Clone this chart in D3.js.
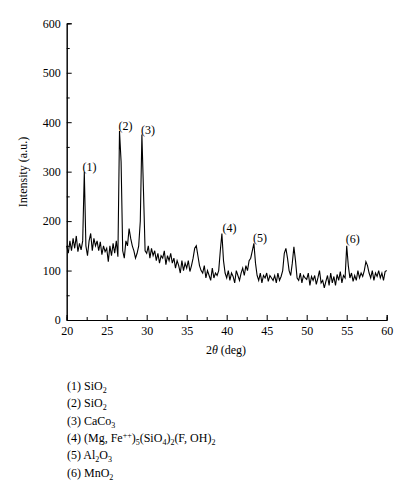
<!DOCTYPE html>
<html>
<head>
<meta charset="utf-8">
<script src="https://cdn.jsdelivr.net/npm/d3@7"></script>
<style>
body { margin: 0; background: #fff; }
text { font-family: "Liberation Serif", "DejaVu Serif", serif; }
</style>
</head>
<body>
<div id="chart"></div>
<script>
// XRD pattern, intensity every 0.2 deg from 20 to 60
var startAngle = 20, stepAngle = 0.2;
var intensity = [
  150,135,160,140,165, 145,170,138,155,142, 160,300,150,130,160, 175,140,165,150,160,
  140,158,132,150,138, 145,118,150,130,155, 135,160,128,382,320, 140,125,160,150,185,
  165,150,140,125,135, 150,200,375,260,140, 135,150,125,145,130, 140,120,135,115,130,
  125,140,112,130,120, 135,115,125,105,120, 110,95,120,100,115, 105,120,98,110,125,
  145,150,130,110,100, 95,110,85,100,90, 80,105,85,95,90, 100,140,175,120,95,
  85,100,80,95,88, 75,100,90,80,95, 105,90,110,100,120, 125,140,155,115,90,
  80,95,75,90,85, 95,78,90,85,80, 90,75,95,80,88, 100,135,145,125,100,
  90,115,148,120,85, 80,95,75,90,85, 82,95,70,88,80, 90,72,85,100,75,
  80,65,78,90,70, 95,75,88,70,92, 80,98,75,90,85, 150,110,85,95,78,
  90,80,100,85,95, 88,100,118,110,95, 85,100,80,95,88, 100,85,95,80,98, 100
];
var peakLabels = ["(1)", "(2)", "(3)", "(4)", "(5)", "(6)"];
var peakAngles = [22.1, 26.6, 29.4, 39.6, 43.4, 55.0];
var peakHeights = [300, 382, 375, 175, 155, 153];
var xTicks = [20, 25, 30, 35, 40, 45, 50, 55, 60];
var yTicks = [0, 100, 200, 300, 400, 500, 600];
var legendItems = [
  ["(1) SiO", ["2", "sub"]],
  ["(2) SiO", ["2", "sub"]],
  ["(3) CaCo", ["3", "sub"]],
  ["(4) (Mg, Fe", ["++", "super"], ")", ["5", "sub"], "(SiO", ["4", "sub"], ")", ["2", "sub"], "(F, OH)", ["2", "sub"]],
  ["(5) Al", ["2", "sub"], "O", ["3", "sub"]],
  ["(6) MnO", ["2", "sub"]]
];

var data = intensity.map(function(v, i) { return { a: startAngle + i * stepAngle, v: v }; });

var svg = d3.select("#chart").append("svg").attr("width", 410).attr("height", 500);
var x = d3.scaleLinear().domain([20, 60]).range([66.7, 386.7]);
var y = d3.scaleLinear().domain([0, 600]).range([320, 23.3]);

/*axes with inward ticks*/
var gx = svg.append("g").attr("transform", "translate(0,320)");
gx.call(d3.axisBottom(x).tickValues(xTicks).tickSize(-5).tickPadding(6));
gx.append("g").call(d3.axisBottom(x).tickValues(d3.range(22.5, 60, 5)).tickSize(-3).tickFormat(""));
var gy = svg.append("g").attr("transform", "translate(66.7,0)");
gy.call(d3.axisLeft(y).tickValues(yTicks).tickSize(-5).tickPadding(6));
gy.append("g").call(d3.axisLeft(y).tickValues(d3.range(50, 600, 100)).tickSize(-3).tickFormat(""));
svg.selectAll(".domain").attr("stroke", "#000");
svg.selectAll(".tick line").attr("stroke", "#000");
svg.selectAll(".tick text").attr("font-family", "Liberation Serif").attr("font-size", 12).attr("fill", "#000");

svg.append("text").attr("transform", "translate(27,172) rotate(-90)")
  .attr("text-anchor", "middle").attr("font-size", 12).text("Intensity (a.u.)");
var xl = svg.append("text").attr("x", 226).attr("y", 354).attr("text-anchor", "middle").attr("font-size", 12);
xl.append("tspan").text("2");
xl.append("tspan").attr("font-style", "italic").text("θ");
xl.append("tspan").text(" (deg)");

svg.append("path").datum(data)
  .attr("fill", "none").attr("stroke", "#000").attr("stroke-width", 1.1)
  .attr("d", d3.line().x(function(d) { return x(d.a); }).y(function(d) { return y(d.v); }));

svg.selectAll(".plab").data(peakLabels).join("text")
  .attr("x", function(d, i) { return x(peakAngles[i]) - 1; })
  .attr("y", function(d, i) { return y(peakHeights[i]) - 1; })
  .attr("font-size", 12).text(function(d) { return d; });

legendItems.forEach(function(item, i) {
  var t = svg.append("text").attr("x", 67).attr("y", 390 + i * 17.3).attr("font-size", 12);
  item.forEach(function(part) {
    if (typeof part === "string") {
      t.append("tspan").text(part);
    } else {
      t.append("tspan").attr("font-size", 8)
        .attr("baseline-shift", part[1] === "sub" ? "-3" : "4").text(part[0]);
    }
  });
});
</script>
</body>
</html>
